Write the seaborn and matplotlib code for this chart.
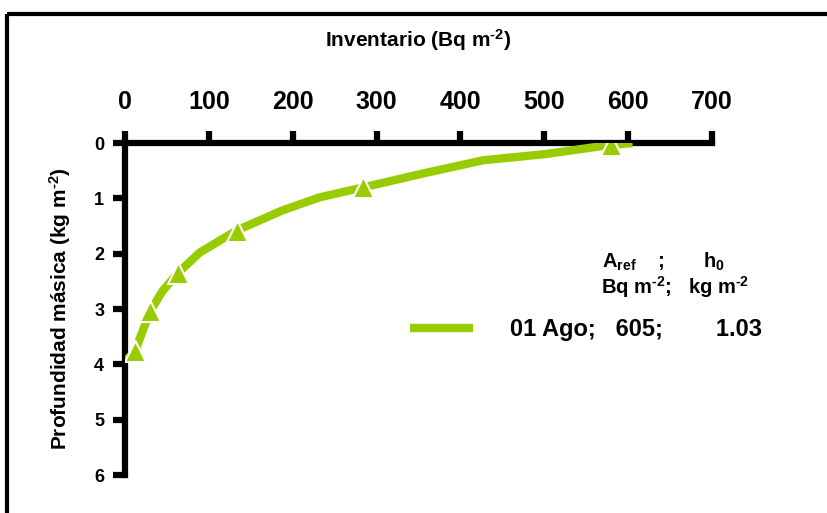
import matplotlib
matplotlib.use("Agg")
from matplotlib import pyplot as plt
from matplotlib.lines import Line2D
import seaborn as sns
import pandas as pd

# line (inventario vs profundidad masica)
line_inv = [605, 580, 500, 427, 355, 284, 232, 187, 133, 89, 63, 45, 30, 12, 2]
line_depth = [0.0, 0.03, 0.2, 0.31, 0.55, 0.8, 0.98, 1.22, 1.58, 1.98, 2.35, 2.67, 3.04, 3.76, 3.92]

# measured points (triangles)
pt_inv = [580, 284, 133, 63, 30, 12]
pt_depth = [0.03, 0.8, 1.58, 2.35, 3.04, 3.76]

x_ticks = [0, 100, 200, 300, 400, 500, 600, 700]
y_ticks = [0, 1, 2, 3, 4, 5, 6]
series_label = "01 Ago;   605;        1.03"

green = "#99CC00"

sns.set_theme(style="white")
plt.rcParams['font.family'] = ['Liberation Sans', 'DejaVu Sans']
plt.rcParams['font.weight'] = 'bold'
plt.rcParams['mathtext.fontset'] = 'custom'
plt.rcParams['mathtext.rm'] = 'Liberation Sans:bold'
plt.rcParams['mathtext.bf'] = 'Liberation Sans:bold'
plt.rcParams['mathtext.it'] = 'Liberation Sans:bold'
plt.rcParams['text.color'] = 'black'
plt.rcParams['axes.labelcolor'] = 'black'
plt.rcParams['xtick.color'] = 'black'
plt.rcParams['ytick.color'] = 'black'
plt.rcParams['lines.solid_capstyle'] = 'butt'

line_df = pd.DataFrame({"inv": line_inv, "depth": line_depth})
pts_df = pd.DataFrame({"inv": pt_inv, "depth": pt_depth})

fig = plt.figure(figsize=(8.27, 5.13), dpi=100)
ax = fig.add_axes([0.1511, 0.074, 0.710, 0.647])

sns.lineplot(data=line_df, x="inv", y="depth", sort=False, color=green,
             linewidth=6, ax=ax, label=series_label, zorder=3,
             solid_capstyle="butt")
sns.scatterplot(data=pts_df, x="inv", y="depth", marker="^", s=230, color=green,
                edgecolor="white", linewidth=1.5, ax=ax, zorder=4, legend=False)

ax.set_xlim(0, 700)
ax.set_ylim(6, 0)
ax.set_xticks(x_ticks)
ax.set_yticks(y_ticks)
ax.xaxis.tick_top()
ax.xaxis.set_label_position("top")
ax.tick_params(axis="x", top=True, bottom=False, direction="out", length=9, width=4.5,
               color="black", labelcolor="black", labelsize=18, pad=12)
ax.tick_params(axis="y", left=True, direction="out", length=9, width=4.5,
               color="black", labelcolor="black", labelsize=13, pad=6)
for lab in ax.get_xticklabels() + ax.get_yticklabels():
    lab.set_fontweight("bold")

for side in ["bottom", "right"]:
    ax.spines[side].set_visible(False)
for side in ["top", "left"]:
    ax.spines[side].set_linewidth(4.5)
    ax.spines[side].set_color("black")
ax.spines["top"].set_bounds(0, 700)
ax.spines["left"].set_bounds(0, 6)
ax.grid(False)

ax.set_xlabel("Inventario (Bq m$^{‐2}$)", fontsize=15, fontweight="bold")
ax.set_ylabel("Profundidad másica (kg m$^{‐2}$)", fontsize=15, fontweight="bold")
ax.xaxis.set_label_coords(0.5, 1.29)
ax.yaxis.set_label_coords(-0.088, 0.5)

leg = ax.legend(loc="center left", bbox_to_anchor=(0.486, 0.437), frameon=False,
                borderaxespad=0, borderpad=0,
                handlelength=2.66, handletextpad=1.57, prop={"size": 17, "weight": "bold"})
for t in leg.get_texts():
    t.set_color("black")
for h in leg.get_lines():
    h.set_solid_capstyle("butt")

fig.text(0.802, 0.489, r"A$_{ref}$    ;       h$_{0}$", fontsize=14.5,
         fontweight="bold", ha="center", va="center")
fig.text(0.816, 0.44, "Bq m$^{‐2}$;   kg m$^{‐2}$", fontsize=14.5,
         fontweight="bold", ha="center", va="center")

# outer frame (left and top edges visible)
fig.add_artist(Line2D([0.008, 0.008], [0.0, 0.973], transform=fig.transFigure,
                      color="black", linewidth=3))
fig.add_artist(Line2D([0.008, 1.0], [0.973, 0.973], transform=fig.transFigure,
                      color="black", linewidth=3))

fig.savefig("out.png", dpi=100)
